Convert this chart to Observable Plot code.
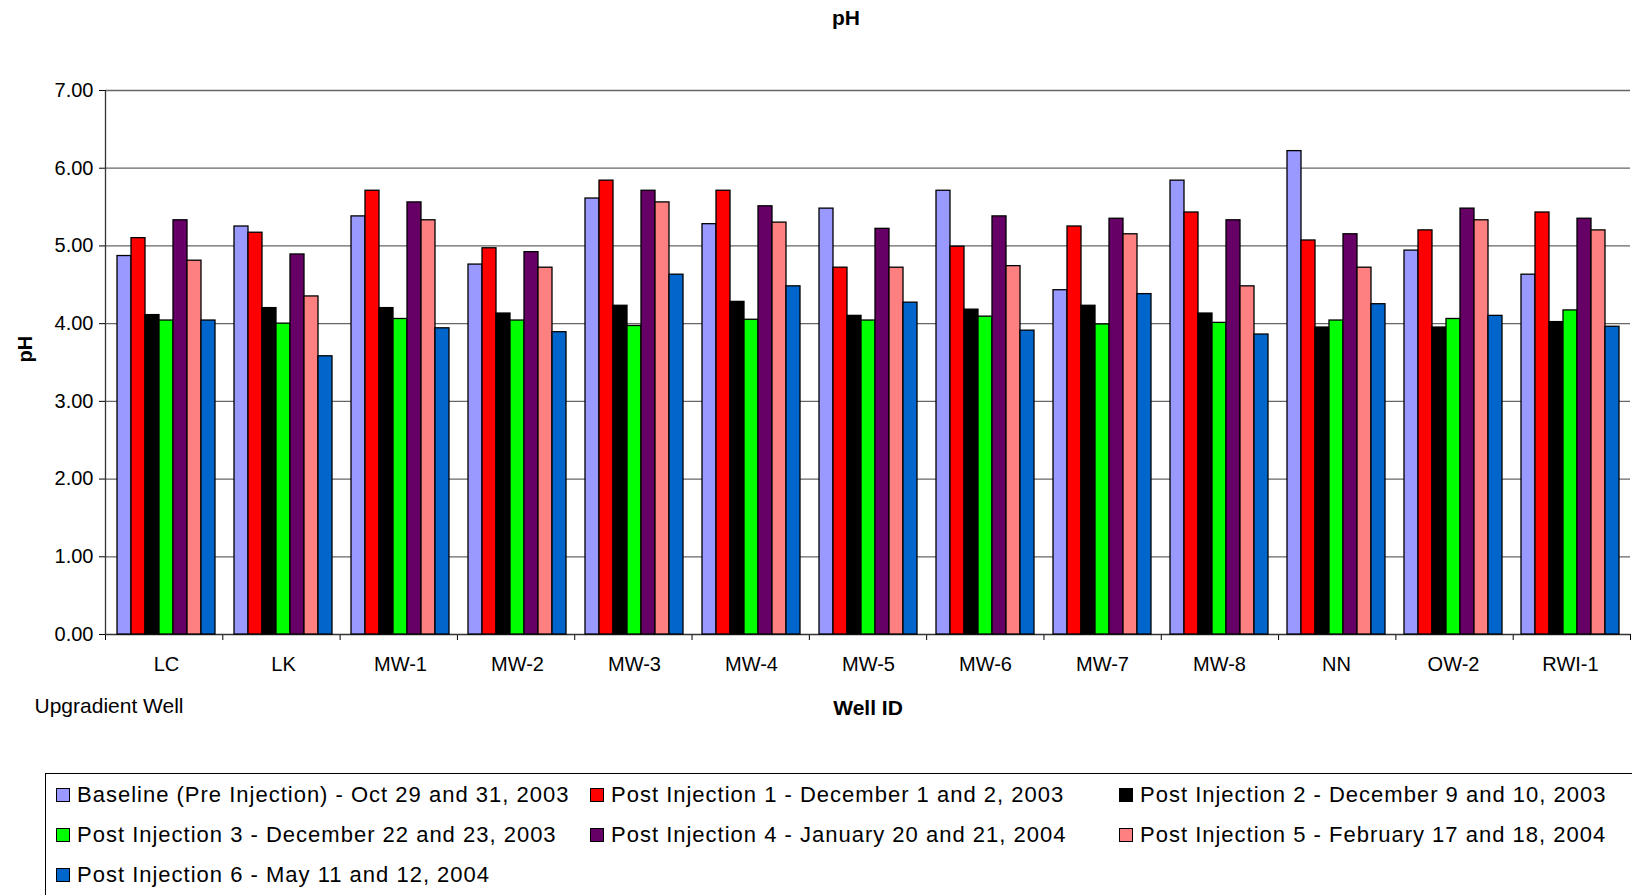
<!DOCTYPE html>
<html>
<head>
<meta charset="utf-8">
<script src="https://cdn.jsdelivr.net/npm/d3@7"></script>
<script src="https://cdn.jsdelivr.net/npm/@observablehq/plot@0.6"></script>
<style>
  body { margin: 0; background: #fff; font-family: "Liberation Sans", Arial, sans-serif; }
  #wrap { position: relative; width: 1632px; height: 895px; overflow: hidden; background: #fff; }
  #wrap svg { position: absolute; left: 0; top: 0; }
  #title { position: absolute; left: 746px; top: 6px; width: 200px; text-align: center;
           font-weight: bold; font-size: 21px; line-height: 24px; }
  #legend { position: absolute; left: 45px; top: 773px; width: 1620px; height: 140px;
            border: 1px solid #000; box-sizing: border-box; }
  .item { position: absolute; display: flex; align-items: center; font-size: 22px; line-height: 26px;
          letter-spacing: 1px; white-space: nowrap; transform: translateY(-50%); }
  .sw { width: 12px; height: 12px; border: 1px solid #000; margin-right: 7px; flex: none; }
</style>
</head>
<body>
<div id="wrap">
  <div id="title">pH</div>
  <div id="legend"></div>
</div>
<script>
// ---- data ----
const wells = ["LC", "LK", "MW-1", "MW-2", "MW-3", "MW-4", "MW-5", "MW-6", "MW-7", "MW-8", "NN", "OW-2", "RWI-1"];
const series = [
  "Baseline (Pre Injection) - Oct 29 and 31, 2003",
  "Post Injection 1 - December 1 and 2, 2003",
  "Post Injection 2 - December 9 and 10, 2003",
  "Post Injection 3 - December 22 and 23, 2003",
  "Post Injection 4 - January 20 and 21, 2004",
  "Post Injection 5 - February 17 and 18, 2004",
  "Post Injection 6 - May 11 and 12, 2004"
];
const colors = ["#9999FF", "#FF0000", "#000000", "#00FF00", "#660066", "#FF8080", "#0066CC"];
const baseline = [4.87, 5.25, 5.38, 4.76, 5.61, 5.28, 5.48, 5.71, 4.43, 5.84, 6.22, 4.94, 4.63];
const post1    = [5.10, 5.17, 5.71, 4.97, 5.84, 5.71, 4.72, 4.99, 5.25, 5.43, 5.07, 5.20, 5.43];
const post2    = [4.11, 4.20, 4.20, 4.13, 4.23, 4.28, 4.10, 4.18, 4.23, 4.13, 3.95, 3.95, 4.02];
const post3    = [4.04, 4.00, 4.06, 4.04, 3.97, 4.05, 4.04, 4.09, 3.99, 4.01, 4.04, 4.06, 4.17];
const post4    = [5.33, 4.89, 5.56, 4.92, 5.71, 5.51, 5.22, 5.38, 5.35, 5.33, 5.15, 5.48, 5.35];
const post5    = [4.81, 4.35, 5.33, 4.72, 5.56, 5.30, 4.72, 4.74, 5.15, 4.48, 4.72, 5.33, 5.20];
const post6    = [4.04, 3.58, 3.94, 3.89, 4.63, 4.48, 4.27, 3.91, 4.38, 3.86, 4.25, 4.10, 3.96];
const yTicks = [0, 1, 2, 3, 4, 5, 6, 7];

const seriesValues = [baseline, post1, post2, post3, post4, post5, post6];
const rows = wells.flatMap((w, i) => series.map((s, j) => ({ well: w, series: s, value: seriesValues[j][i] })));

// ---- layout ----
const W = 1632, H = 740;
const margins = { marginLeft: 105, marginRight: 2, marginTop: 90, marginBottom: 106 };
const font = "Liberation Sans, Arial, sans-serif";

// base layer: gridlines, axes, labels
const base = Plot.plot({
  width: W, height: H, ...margins,
  style: { background: "transparent", fontFamily: font, fontSize: "20px", color: "#000" },
  x: { domain: [0, wells.length], ticks: d3.range(0, wells.length + 1), tickFormat: () => "", tickSize: 6, label: null },
  y: { domain: [0, 7], ticks: yTicks, tickFormat: d3.format(".2f"), tickSize: 6, tickPadding: 6, label: null },
  marks: [
    Plot.ruleY(yTicks.filter(t => t > 0), { stroke: "#666", strokeWidth: 1.3 }),
    Plot.ruleX([0], { stroke: "#333", strokeWidth: 1.3 }),
    Plot.ruleY([0], { stroke: "#333", strokeWidth: 1.3 }),
    Plot.text(["pH"], { frameAnchor: "left", dx: -80, rotate: -90, fontWeight: "bold", fontSize: 20 }),
    Plot.text(["Well ID"], { frameAnchor: "bottom", dy: 80, fontWeight: "bold", fontSize: 21 }),
    Plot.text(["Upgradient Well"], { frameAnchor: "bottom-left", dx: -71, dy: 78, textAnchor: "start", fontSize: 21 })
  ]
});

// bar layer: faceted grouped bars
const bars = Plot.plot({
  width: W, height: H, ...margins,
  style: { background: "transparent", fontFamily: font, fontSize: "20px", color: "#000" },
  fx: { domain: wells, paddingInner: 0.165, paddingOuter: 0.0825, label: null, axis: "bottom", tickSize: 0, tickPadding: 22 },
  x: { domain: series, padding: 0, axis: null },
  y: { domain: [0, 7], axis: null },
  color: { domain: series, range: colors },
  marks: [
    Plot.barY(rows, { fx: "well", x: "series", y: "value", fill: "series", stroke: "#000", strokeWidth: 1.3 })
  ]
});

const wrap = document.getElementById("wrap");
wrap.insertBefore(bars, wrap.firstChild);
wrap.insertBefore(base, wrap.firstChild);

// legend
const legend = document.getElementById("legend");
const colX = [10, 544, 1073];
const rowY = [21, 61, 101];
series.forEach((s, i) => {
  const item = document.createElement("div");
  item.className = "item";
  item.style.left = colX[i % 3] + "px";
  item.style.top = rowY[Math.floor(i / 3)] + "px";
  const sw = document.createElement("span");
  sw.className = "sw";
  sw.style.background = colors[i];
  const t = document.createElement("span");
  t.textContent = s;
  item.appendChild(sw);
  item.appendChild(t);
  legend.appendChild(item);
});
</script>
</body>
</html>
